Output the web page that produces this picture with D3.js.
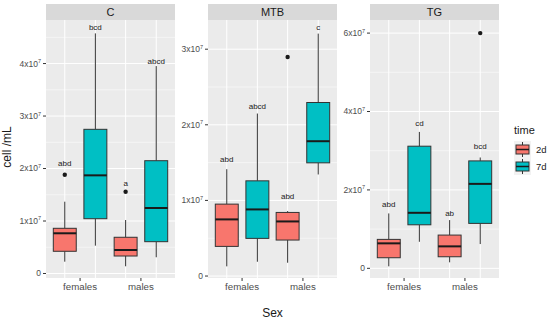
<!DOCTYPE html>
<html>
<head>
<meta charset="utf-8">
<script src="https://cdn.jsdelivr.net/npm/d3@7"></script>
<style>
  body { margin: 0; background: #fff; }
  text { font-family: "Liberation Sans", Arial, sans-serif; }
</style>
</head>
<body>
<div id="chart"></div>
<script>

// DATA (values in units of 1x10^7 cell/mL)

var panels = ["C", "MTB", "TG"]
var sexes = ["females", "males"]
var times = ["2d", "7d"]
var timeColors = ["#F8766D", "#00BFC4"]

var boxC = [
  {sex: "females", time: "2d", lo: 0.225, q1: 0.423, med: 0.766, q3: 0.861, hi: 1.368, out: [1.882], label: "abd",  labelY: 2.11},
  {sex: "females", time: "7d", lo: 0.53,  q1: 1.044, med: 1.87,  q3: 2.747, hi: 4.575, out: [],      label: "bcd",  labelY: 4.69},
  {sex: "males",   time: "2d", lo: 0.137, q1: 0.333, med: 0.448, q3: 0.69,  hi: 1.019, out: [1.558], label: "a",    labelY: 1.72},
  {sex: "males",   time: "7d", lo: 0.309, q1: 0.606, med: 1.248, q3: 2.149, hi: 3.952, out: [],      label: "abcd", labelY: 4.05}
]

var boxMTB = [
  {sex: "females", time: "2d", lo: 0.128, q1: 0.392, med: 0.749, q3: 0.951, hi: 1.413, out: [],      label: "abd",  labelY: 1.55},
  {sex: "females", time: "7d", lo: 0.189, q1: 0.498, med: 0.881, q3: 1.259, hi: 2.149, out: [],      label: "abcd", labelY: 2.24},
  {sex: "males",   time: "2d", lo: 0.176, q1: 0.476, med: 0.722, q3: 0.841, hi: 0.859, out: [2.897], label: "abd",  labelY: 1.05},
  {sex: "males",   time: "7d", lo: 1.343, q1: 1.497, med: 1.783, q3: 2.295, hi: 3.206, out: [],      label: "c",    labelY: 3.29}
]

var boxTG = [
  {sex: "females", time: "2d", lo: 0.051, q1: 0.27,  med: 0.637, q3: 0.738, hi: 1.40,  out: [],      label: "abd",  labelY: 1.64},
  {sex: "females", time: "7d", lo: 0.677, q1: 1.11,  med: 1.416, q3: 3.115, hi: 3.479, out: [],      label: "cd",   labelY: 3.69},
  {sex: "males",   time: "2d", lo: 0.153, q1: 0.295, med: 0.56,  q3: 0.848, hi: 1.23,  out: [],      label: "ab",   labelY: 1.40},
  {sex: "males",   time: "7d", lo: 0.619, q1: 1.146, med: 2.154, q3: 2.74,  hi: 2.827, out: [6.0],   label: "bcd",  labelY: 3.12}
]

var boxData = [boxC, boxMTB, boxTG]

// y tick values for each facet (free y scales)
var ticksC = [0, 1, 2, 3, 4]
var ticksMTB = [0, 1, 2, 3]
var ticksTG = [0, 2, 4, 6]
var minorC = [0.5, 1.5, 2.5, 3.5, 4.5]
var minorMTB = [0.5, 1.5, 2.5]
var minorTG = [1, 3, 5]
var yTicks = [ticksC, ticksMTB, ticksTG]
var yMinor = [minorC, minorMTB, minorTG]
var yDomains = [[-0.086, 4.83], [-0.026, 3.386], [-0.247, 6.334]]

// SET DIMENSIONS

var W = 550, H = 323
var panelW = 129, panelGap = 33
var panelLeft = 46
var stripTop = 4, stripH = 16
var plotTop = stripTop + stripH, plotBottom = 278

var svg = d3.select("#chart").append("svg")
    .attr("width", W)
    .attr("height", H)

// facet scale
var facetX = d3.scaleBand()
    .domain(panels)
    .range([panelLeft, panelLeft + 3 * panelW + 2 * panelGap])
    .paddingInner(panelGap / (panelW + panelGap))

// sex scale inside a panel, time scale inside a sex group
var sexX = d3.scaleBand()
    .domain(sexes)
    .range([0, panelW])
    .padding(0.12)

var timeX = d3.scaleBand()
    .domain(times)
    .range([0, sexX.bandwidth()])
    .paddingInner(0.25)

var color = d3.scaleOrdinal().domain(times).range(timeColors)

function superLabel(sel, v) {
  sel.each(function() {
    var t = d3.select(this)
    if (v === 0) { t.text("0"); return }
    t.append("tspan").text(v + "x10")
    t.append("tspan").attr("dy", -3.5).attr("font-size", "5.5px").text("7")
  })
}

panels.forEach(function(p, i) {
  var x0 = facetX(p)
  var g = svg.append("g").attr("transform", "translate(" + x0 + ",0)")

  var y = d3.scaleLinear()
      .domain(yDomains[i])
      .range([plotBottom, plotTop])

  function cx(d) { return sexX(d.sex) + timeX(d.time) + timeX.bandwidth() / 2 }

  // strip
  g.append("rect")
      .attr("x", 0).attr("y", stripTop)
      .attr("width", panelW).attr("height", stripH)
      .attr("fill", "#d9d9d9")
  g.append("text")
      .attr("x", panelW / 2).attr("y", stripTop + stripH / 2)
      .attr("dy", "0.36em")
      .attr("text-anchor", "middle")
      .attr("font-size", "11px")
      .attr("fill", "#1a1a1a")
      .text(p)

  // panel background
  g.append("rect")
      .attr("x", 0).attr("y", plotTop)
      .attr("width", panelW).attr("height", plotBottom - plotTop)
      .attr("fill", "#ebebeb")

  // grid
  g.selectAll(".minor").data(yMinor[i]).enter().append("line")
      .attr("x1", 0).attr("x2", panelW)
      .attr("y1", function(d) { return y(d) }).attr("y2", function(d) { return y(d) })
      .attr("stroke", "#fff").attr("stroke-width", 0.5)
  g.selectAll(".major").data(yTicks[i]).enter().append("line")
      .attr("x1", 0).attr("x2", panelW)
      .attr("y1", function(d) { return y(d) }).attr("y2", function(d) { return y(d) })
      .attr("stroke", "#fff").attr("stroke-width", 1)
  g.selectAll(".vgrid").data(boxData[i]).enter().append("line")
      .attr("x1", cx).attr("x2", cx)
      .attr("y1", plotTop).attr("y2", plotBottom)
      .attr("stroke", "#fff").attr("stroke-width", 1)

  // y axis
  var yAxis = g.append("g")
  yTicks[i].forEach(function(v) {
    yAxis.append("line")
        .attr("x1", -3).attr("x2", 0)
        .attr("y1", y(v)).attr("y2", y(v))
        .attr("stroke", "#333").attr("stroke-width", 1)
    yAxis.append("text")
        .attr("x", -5).attr("y", y(v))
        .attr("dy", "0.35em")
        .attr("text-anchor", "end")
        .attr("font-size", "8.5px")
        .attr("fill", "#4d4d4d")
        .call(superLabel, v)
  })

  // x axis
  sexes.forEach(function(s) {
    var sx = sexX(s) + sexX.bandwidth() / 2
    g.append("line")
        .attr("x1", sx).attr("x2", sx)
        .attr("y1", plotBottom).attr("y2", plotBottom + 3)
        .attr("stroke", "#333")
    g.append("text")
        .attr("x", sx).attr("y", plotBottom + 12)
        .attr("text-anchor", "middle")
        .attr("font-size", "9.7px")
        .attr("fill", "#4d4d4d")
        .text(s)
  })

  // boxes
  var bw = timeX.bandwidth()
  var boxes = g.selectAll(".box").data(boxData[i]).enter().append("g")

  boxes.append("line")
      .attr("x1", cx).attr("x2", cx)
      .attr("y1", function(d) { return y(d.hi) }).attr("y2", function(d) { return y(d.q3) })
      .attr("stroke", "#333").attr("stroke-width", 1)
  boxes.append("line")
      .attr("x1", cx).attr("x2", cx)
      .attr("y1", function(d) { return y(d.q1) }).attr("y2", function(d) { return y(d.lo) })
      .attr("stroke", "#333").attr("stroke-width", 1)
  boxes.append("rect")
      .attr("x", function(d) { return cx(d) - bw / 2 })
      .attr("y", function(d) { return y(d.q3) })
      .attr("width", bw)
      .attr("height", function(d) { return y(d.q1) - y(d.q3) })
      .attr("fill", function(d) { return color(d.time) })
      .attr("stroke", "#333").attr("stroke-width", 1)
  boxes.append("line")
      .attr("x1", function(d) { return cx(d) - bw / 2 })
      .attr("x2", function(d) { return cx(d) + bw / 2 })
      .attr("y1", function(d) { return y(d.med) }).attr("y2", function(d) { return y(d.med) })
      .attr("stroke", "#1a1a1a").attr("stroke-width", 2)

  boxes.each(function(d) {
    d3.select(this).selectAll("circle").data(d.out).enter().append("circle")
        .attr("cx", cx(d))
        .attr("cy", function(v) { return y(v) })
        .attr("r", 2.2)
        .attr("fill", "#1a1a1a")
  })

  boxes.append("text")
      .attr("x", cx)
      .attr("y", function(d) { return y(d.labelY) })
      .attr("dy", "0.35em")
      .attr("text-anchor", "middle")
      .attr("font-size", "8px")
      .attr("fill", "#1a1a1a")
      .text(function(d) { return d.label })
})

// axis titles
svg.append("text")
    .attr("transform", "translate(11," + 147 + ") rotate(-90)")
    .attr("text-anchor", "middle")
    .attr("font-size", "12px")
    .attr("fill", "#1a1a1a")
    .text("cell /mL")

svg.append("text")
    .attr("x", (facetX("C") + facetX("TG") + panelW) / 2)
    .attr("y", 317)
    .attr("text-anchor", "middle")
    .attr("font-size", "12px")
    .attr("fill", "#1a1a1a")
    .text("Sex")

// LEGEND

var legend = svg.append("g").attr("transform", "translate(514,128)")
legend.append("text")
    .attr("x", 0).attr("y", 6)
    .attr("font-size", "11px")
    .attr("fill", "#1a1a1a")
    .text("time")

times.forEach(function(t, k) {
  var ky = 13 + k * 17
  var kg = legend.append("g").attr("transform", "translate(0," + ky + ")")
  kg.append("rect")
      .attr("width", 17).attr("height", 17)
      .attr("fill", "#f2f2f2")
  kg.append("line")
      .attr("x1", 8.5).attr("x2", 8.5).attr("y1", 1).attr("y2", 16)
      .attr("stroke", "#333")
  kg.append("rect")
      .attr("x", 2).attr("y", 4)
      .attr("width", 13).attr("height", 9)
      .attr("fill", color(t))
      .attr("stroke", "#333")
  kg.append("line")
      .attr("x1", 2).attr("x2", 15).attr("y1", 8.5).attr("y2", 8.5)
      .attr("stroke", "#1a1a1a").attr("stroke-width", 1.5)
  kg.append("text")
      .attr("x", 22).attr("y", 8.5)
      .attr("dy", "0.35em")
      .attr("font-size", "9.5px")
      .attr("fill", "#1a1a1a")
      .text(t)
})

</script>
</body>
</html>
